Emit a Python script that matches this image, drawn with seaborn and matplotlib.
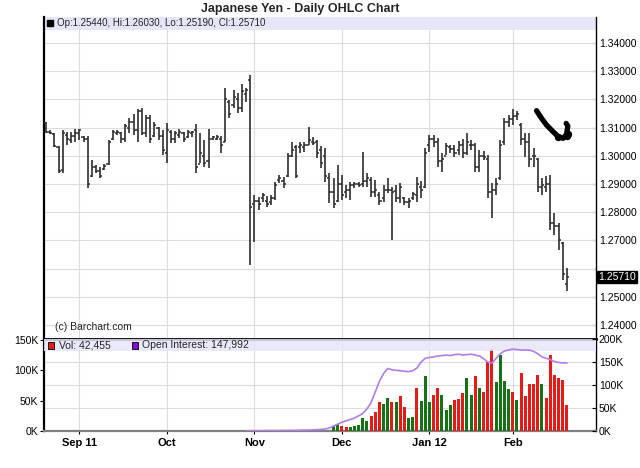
import numpy as np
import pandas as pd
import matplotlib
matplotlib.use("Agg")
import matplotlib.pyplot as plt
import seaborn as sns
from matplotlib.patches import Rectangle

# ---------------- data ----------------
title = "Japanese Yen - Daily OHLC Chart"
month_labels = ["Sep 11", "Oct", "Nov", "Dec", "Jan 12", "Feb"]
month_pos = [8, 29, 50, 71, 92, 112]
price_ticks = [1.24, 1.25, 1.26, 1.27, 1.28, 1.29, 1.30, 1.31, 1.32, 1.33, 1.34]
last_price = 1.25710
header_text = "Op:1.25440, Hi:1.26030, Lo:1.25190, Cl:1.25710"
vol_text = "Vol: 42,455"
oi_text = "Open Interest: 147,992"

high = [1.3121, 1.3090, 1.3081, 1.3034, 1.3090, 1.3084, 1.3084, 1.3095, 1.3095, 1.3070,
        1.3070, 1.2985, 1.2967, 1.2960, 1.2970, 1.3056, 1.3092, 1.3092, 1.3084, 1.3113,
        1.3134, 1.3148, 1.3166, 1.3170, 1.3145, 1.3145, 1.3120, 1.3102, 1.3092, 1.3116,
        1.3092, 1.3088, 1.3095, 1.3084, 1.3092, 1.3088, 1.3113, 1.3081, 1.3056, 1.3095,
        1.3070, 1.3074, 1.3070, 1.3240, 1.3198, 1.3233, 1.3223, 1.3255, 1.3240, 1.3287,
        1.2861, 1.2854, 1.2868, 1.2857, 1.2861, 1.2907, 1.2932, 1.2925, 1.3010, 1.3049,
        1.3038, 1.3049, 1.3049, 1.3102, 1.3067, 1.3056, 1.3035, 1.3028, 1.2939, 1.2921,
        1.2967, 1.2932, 1.2897, 1.2907, 1.2907, 1.2907, 1.3013, 1.2939, 1.2925, 1.2914,
        1.2872, 1.2897, 1.2921, 1.2889, 1.2897, 1.2904, 1.2854, 1.2850, 1.2872, 1.2925,
        1.2911, 1.3028, 1.3074, 1.3074, 1.3063, 1.3010, 1.3045, 1.3038, 1.3038, 1.3052,
        1.3060, 1.3081, 1.3056, 1.3045, 1.3021, 1.3017, 1.3003, 1.2904, 1.2921, 1.3056,
        1.3134, 1.3145, 1.3166, 1.3159, 1.3116, 1.3081, 1.3081, 1.3028, 1.2992, 1.2921,
        1.2928, 1.2932, 1.2797, 1.2762, 1.2694, 1.2603]
low = [1.3081, 1.3078, 1.3031, 1.2939, 1.2939, 1.3038, 1.3045, 1.3049, 1.3056, 1.3049,
       1.2886, 1.2925, 1.2939, 1.2921, 1.2950, 1.2967, 1.3056, 1.3074, 1.3045, 1.3049,
       1.3081, 1.3074, 1.3049, 1.3074, 1.3067, 1.3045, 1.3067, 1.3056, 1.3003, 1.2974,
       1.3045, 1.3045, 1.3063, 1.3049, 1.3063, 1.3067, 1.2939, 1.2974, 1.2960, 1.2957,
       1.3056, 1.3056, 1.3010, 1.3049, 1.3134, 1.3170, 1.3152, 1.3155, 1.3191, 1.2613,
       1.2694, 1.2808, 1.2836, 1.2819, 1.2826, 1.2843, 1.2904, 1.2886, 1.2925, 1.2996,
       1.2921, 1.3010, 1.3013, 1.3038, 1.3038, 1.2992, 1.2957, 1.2907, 1.2833, 1.2815,
       1.2836, 1.2843, 1.2850, 1.2843, 1.2886, 1.2889, 1.2889, 1.2889, 1.2854, 1.2854,
       1.2826, 1.2836, 1.2868, 1.2701, 1.2836, 1.2833, 1.2826, 1.2815, 1.2843, 1.2836,
       1.2850, 1.2886, 1.3013, 1.3031, 1.2960, 1.2943, 1.3003, 1.3010, 1.2996, 1.3003,
       1.2992, 1.3003, 1.3021, 1.2943, 1.2943, 1.2985, 1.2850, 1.2779, 1.2861, 1.2914,
       1.3038, 1.3102, 1.3109, 1.3127, 1.3038, 1.2996, 1.2960, 1.2960, 1.2872, 1.2861,
       1.2872, 1.2737, 1.2719, 1.2666, 1.2560, 1.2519]
opn = [1.3115, 1.3085, 1.3078, 1.3030, 1.2950, 1.3075, 1.3055, 1.3070, 1.3080, 1.3065,
       1.3060, 1.2930, 1.2960, 1.2945, 1.2955, 1.2970, 1.3060, 1.3080, 1.3080, 1.3060,
       1.3100, 1.3120, 1.3090, 1.3160, 1.3080, 1.3135, 1.3070, 1.3100, 1.3070, 1.3010,
       1.3085, 1.3060, 1.3075, 1.3080, 1.3065, 1.3080, 1.3090, 1.2970, 1.3000, 1.2980,
       1.3060, 1.3060, 1.3060, 1.3050, 1.3190, 1.3180, 1.3200, 1.3170, 1.3220, 1.3270,
       1.2830, 1.2840, 1.2850, 1.2840, 1.2835, 1.2850, 1.2915, 1.2910, 1.2930, 1.3000,
       1.3030, 1.3030, 1.3030, 1.3040, 1.3050, 1.3050, 1.3020, 1.3000, 1.2920, 1.2870,
       1.2840, 1.2900, 1.2870, 1.2880, 1.2895, 1.2900, 1.2900, 1.2910, 1.2915, 1.2870,
       1.2860, 1.2850, 1.2880, 1.2880, 1.2875, 1.2850, 1.2850, 1.2835, 1.2850, 1.2860,
       1.2890, 1.2890, 1.3040, 1.3060, 1.3050, 1.2980, 1.3000, 1.3030, 1.3025, 1.3020,
       1.3040, 1.3010, 1.3040, 1.3040, 1.2960, 1.3000, 1.2990, 1.2870, 1.2880, 1.2920,
       1.3050, 1.3120, 1.3130, 1.3140, 1.3110, 1.3060, 1.3050, 1.3000, 1.2990, 1.2890,
       1.2890, 1.2900, 1.2760, 1.2750, 1.2690, 1.2544]
close = [1.3085, 1.3082, 1.3035, 1.2945, 1.3080, 1.3060, 1.3070, 1.3080, 1.3090, 1.3060,
         1.2900, 1.2960, 1.2945, 1.2930, 1.2965, 1.3050, 1.3085, 1.3085, 1.3060, 1.3105,
         1.3120, 1.3090, 1.3160, 1.3080, 1.3135, 1.3060, 1.3110, 1.3070, 1.3020, 1.3090,
         1.3060, 1.3080, 1.3085, 1.3060, 1.3085, 1.3085, 1.2960, 1.3010, 1.2975, 1.3060,
         1.3065, 1.3065, 1.3040, 1.3200, 1.3150, 1.3210, 1.3170, 1.3230, 1.3235, 1.2820,
         1.2840, 1.2830, 1.2860, 1.2830, 1.2850, 1.2895, 1.2920, 1.2900, 1.3000, 1.3020,
         1.2930, 1.3040, 1.3040, 1.3055, 1.3045, 1.3010, 1.2975, 1.2930, 1.2870, 1.2830,
         1.2900, 1.2860, 1.2880, 1.2895, 1.2900, 1.2895, 1.2910, 1.2920, 1.2870, 1.2880,
         1.2840, 1.2880, 1.2880, 1.2870, 1.2850, 1.2890, 1.2835, 1.2840, 1.2865, 1.2900,
         1.2880, 1.3010, 1.3060, 1.3050, 1.2980, 1.2990, 1.3035, 1.3025, 1.3010, 1.3040,
         1.3010, 1.3050, 1.3040, 1.2960, 1.3000, 1.2995, 1.2870, 1.2880, 1.2900, 1.3040,
         1.3120, 1.3130, 1.3140, 1.3150, 1.3060, 1.3050, 1.2990, 1.3000, 1.2890, 1.2895,
         1.2900, 1.2760, 1.2750, 1.2700, 1.2580, 1.2571]

volume_start = 69
volume = [9000, 11000, 9000, 7000, 7000, 8000, 10000, 21000, 16500, 25000,
          32000, 47000, 44500, 55000, 47000, 47000, 58000, 40000, 22000, 23600,
          71000, 49000, 91000, 47000, 59000, 71000, 59000, 35000, 43000, 51000,
          53000, 62000, 88000, 60000, 91000, 71000, 64000, 114000, 135000, 81000,
          125000, 82000, 70000, 65000, 51000, 95000, 58000, 77000, 77000, 92000,
          77000, 55000, 125000, 93000, 88000, 84000, 42455]
vol_dir = ["up", "up", "down", "down", "up", "up", "up", "up", "up", "down",
           "down", "down", "up", "up", "down", "up", "down", "down", "up", "up",
           "down", "up", "up", "up", "down", "down", "up", "up", "up", "down",
           "down", "down", "up", "up", "down", "up", "down", "down", "down", "up",
           "up", "up", "up", "down", "up", "down", "down", "down", "down", "down",
           "up", "down", "down", "down", "down", "down", "down"]

oi_start = 48
open_interest = [
    500, 500, 600, 700, 800, 900, 1000, 1000, 1100, 1200,
    1300, 1400, 1500, 1700, 1900, 2100, 2400, 2800, 3500, 4500,
    6500,
    11000, 15000, 19000, 22000, 25000, 28000, 33000, 38000, 48000, 62000,
    85000, 108000, 125000, 136000, 133000, 132000, 131000, 130000, 129000, 131000,
    137000, 150000, 158000, 160000, 161000, 163000, 164000, 165000, 164000, 166000,
    167000, 165000, 166000, 167000, 165000, 163000, 157000, 150000, 148000, 158000,
    168000, 174000, 176000, 178000, 177000, 176000, 176000, 176000, 173000, 168000,
    161000, 158000, 155000, 151000, 149000, 148000, 147992]

# hand-drawn annotation stroke seen on the chart (index, price)
stroke_x = [117.7, 118.9, 120.1, 121.7, 122.9, 124.1, 124.9, 125.2, 124.8]
stroke_y = [1.3160, 1.3133, 1.3109, 1.3085, 1.3068, 1.3062, 1.3077, 1.3106, 1.3115]
blob_x = [122.8, 124.9, 125.3]
blob_y = [1.3066, 1.3072, 1.3078]

# ---------------- figure ----------------
sns.set_theme(style="white")
plt.rcParams["font.family"] = ["Liberation Sans", "DejaVu Sans"]

W, H = 640, 468
fig = plt.figure(figsize=(6.4, 4.68), dpi=100)
fig.patch.set_facecolor("white")

def fx(px):
    return px / W

def fy(py):
    return 1 - py / H

ax = fig.add_axes([fx(44), fy(338), fx(596) - fx(44), fy(17) - fy(338)])
axv = fig.add_axes([fx(44), fy(431), fx(596) - fx(44), fy(339) - fy(431)])

xlim = (-0.48, 131.96)
grid_c = "#dcdcdc"
bar_c = "#2e2e2e"

# --- price panel ---
n = len(high)
idx = np.arange(n)
ax.vlines(idx, low, high, color=bar_c, lw=1.2, zorder=3)
ax.hlines(opn, idx - 0.5, idx, color=bar_c, lw=1.1, zorder=3)
ax.hlines(close, idx, idx + 0.5, color=bar_c, lw=1.1, zorder=3)
sns.lineplot(x=stroke_x, y=stroke_y, ax=ax, color="black", lw=3.8, sort=False,
             solid_capstyle="round", solid_joinstyle="round", zorder=4)
sns.scatterplot(x=blob_x, y=blob_y, ax=ax, color="black", s=28, linewidth=0, zorder=4)

ax.set_xlim(*xlim)
ax.set_ylim(1.2354, 1.34922)
ax.set_yticks(price_ticks)
ax.set_yticklabels([("" if abs(t - 1.26) < 1e-9 else f"{t:.5f}") for t in price_ticks])
ax.yaxis.tick_right()
ax.tick_params(axis="y", right=True, left=False, direction="in", length=3, width=0.8,
               labelsize=7.5, pad=2, colors="black")
ax.set_xticks(month_pos)
ax.tick_params(axis="x", bottom=False, labelbottom=False)
for t in price_ticks:
    ax.axhline(t, color=grid_c, lw=0.8, zorder=1)
for p in month_pos:
    ax.axvline(p, color=grid_c, lw=0.8, zorder=1)
ax.set_xlabel("")
ax.set_ylabel("")
for s in ["top", "bottom"]:
    ax.spines[s].set_visible(False)
ax.spines["left"].set_color("black")
ax.spines["left"].set_linewidth(1.6)
ax.spines["right"].set_color("black")
ax.spines["right"].set_linewidth(1.0)
ax.add_patch(Rectangle((0, 1 - 13 / 321), 1, 13 / 321, transform=ax.transAxes,
                       facecolor="#e6e6fa", edgecolor="none", zorder=2))
ax.text(1.004, last_price, "1.25710", transform=ax.get_yaxis_transform(),
        ha="left", va="center", fontsize=7.5, color="white",
        bbox=dict(boxstyle="square,pad=0.12", fc="black", ec="black"), clip_on=False)

# --- volume / open interest panel ---
vdf = pd.DataFrame({"x": np.arange(volume_start, volume_start + len(volume)),
                    "vol": volume, "dir": vol_dir})
sns.barplot(data=vdf, x="x", y="vol", hue="dir", native_scale=True, dodge=False,
            palette={"up": "#157315", "down": "#e41b17"}, saturation=1, width=0.72,
            linewidth=0, legend=False, ax=axv, zorder=3)
axv.set_xlim(*xlim)
vmax = 150000 * 92 / 91
axv.set_ylim(0, vmax)
axv.set_yticks([0, 50000, 100000, 150000])
axv.set_yticklabels(["0K", "50K", "100K", "150K"])
axv.tick_params(axis="y", left=True, direction="out", length=3, width=0.8,
                labelsize=7.5, pad=1, colors="black")
axv.set_xticks(month_pos)
axv.set_xticklabels(month_labels, fontweight="bold")
axv.tick_params(axis="x", bottom=True, direction="out", length=2, width=0.8,
                labelsize=8, pad=3, colors="black")
for k in [50000, 100000, 150000]:
    axv.axhline(k * vmax / 200000, color=grid_c, lw=0.8, zorder=1)
for p in month_pos:
    axv.axvline(p, color=grid_c, lw=0.8, zorder=1)
axv.set_xlabel("")
axv.set_ylabel("")
axv.spines["top"].set_color("black")
axv.spines["top"].set_linewidth(2.0)
axv.spines["bottom"].set_color("#808080")
axv.spines["bottom"].set_linewidth(1.6)
axv.spines["left"].set_color("black")
axv.spines["left"].set_linewidth(1.6)
axv.spines["right"].set_color("black")
axv.spines["right"].set_linewidth(1.0)
axv.add_patch(Rectangle((0, 1 - 12 / 92), 1, 12 / 92, transform=axv.transAxes,
                        facecolor="#e6e6fa", edgecolor="none", alpha=0.85, zorder=4))

axo = axv.twinx()
sns.lineplot(x=np.arange(oi_start, oi_start + len(open_interest)), y=open_interest,
             ax=axo, color="#b27ee6", lw=1.2, zorder=5)
axo.set_xlim(*xlim)
axo.set_ylim(0, 200000)
axo.set_yticks([0, 50000, 100000, 150000, 200000])
axo.set_yticklabels(["0K", "50K", "100K", "150K", "200K"])
axo.tick_params(axis="y", right=True, direction="in", length=3, width=0.8,
                labelsize=7.5, pad=2, colors="black")
axo.set_ylabel("")
for s in axo.spines.values():
    s.set_visible(False)

# --- texts ---
fig.text(fx(300), fy(9), title, ha="center", va="center", fontsize=9, fontweight="bold")
fig.patches.append(Rectangle((fx(47), fy(26)), fx(6), fy(20) - fy(26),
                             transform=fig.transFigure, facecolor="black", edgecolor="black"))
fig.text(fx(57), fy(23.5), header_text, ha="left", va="center", fontsize=7)
fig.text(fx(55), fy(327), "(c) Barchart.com", ha="left", va="center", fontsize=7.5)
fig.patches.append(Rectangle((fx(48), fy(348.5)), fx(6), fy(342.5) - fy(348.5),
                             transform=fig.transFigure, facecolor="#e41b17",
                             edgecolor="black", lw=0.6, zorder=10))
fig.text(fx(59), fy(345.5), vol_text, ha="left", va="center", fontsize=7.5, zorder=10)
fig.patches.append(Rectangle((fx(132), fy(348.5)), fx(6), fy(342.5) - fy(348.5),
                             transform=fig.transFigure, facecolor="#8010d0",
                             edgecolor="black", lw=0.6, zorder=10))
fig.text(fx(142), fy(345.5), oi_text, ha="left", va="center", fontsize=7.5, zorder=10)

fig.savefig("out.png", dpi=100, facecolor="white")
